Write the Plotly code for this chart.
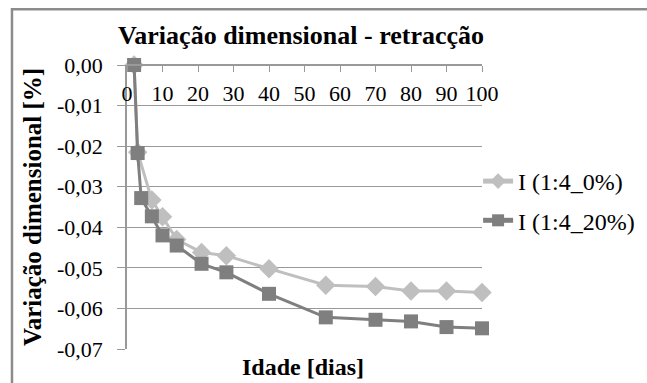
import plotly.graph_objects as go

# Data
days_0 = [2, 3, 7, 10, 14, 21, 28, 40, 56, 70, 80, 90, 100]
vals_0 = [0.0, -0.0215, -0.0333, -0.0374, -0.0430, -0.0462, -0.0470, -0.0502,
          -0.0543, -0.0546, -0.0557, -0.0557, -0.0561]
days_20 = [2, 3, 4, 7, 10, 14, 21, 28, 40, 56, 70, 80, 90, 100]
vals_20 = [0.0, -0.0217, -0.0328, -0.0373, -0.0420, -0.0445, -0.0490, -0.0511,
           -0.0564, -0.0622, -0.0628, -0.0632, -0.0646, -0.0649]
name_0 = "I (1:4_0%)"
name_20 = "I (1:4_20%)"
x_ticks = [0, 10, 20, 30, 40, 50, 60, 70, 80, 90, 100]
y_ticks = [0.0, -0.01, -0.02, -0.03, -0.04, -0.05, -0.06, -0.07]
y_ticktext = ["0,00", "-0,01", "-0,02", "-0,03", "-0,04", "-0,05", "-0,06", "-0,07"]

SERIF = "Liberation Serif, Times New Roman, serif"

fig = go.Figure()
fig.add_trace(go.Scatter(
    x=days_0, y=vals_0, name=name_0, mode="lines+markers", legendgroup="a",
    line=dict(color="#BFBFBF", width=3),
    marker=dict(symbol="diamond", size=15, color="#BFBFBF"),
    cliponaxis=False,
))
fig.add_trace(go.Scatter(
    x=days_20, y=vals_20, name=name_20, mode="lines+markers", legendgroup="b",
    line=dict(color="#7F7F7F", width=3),
    marker=dict(symbol="square", size=14, color="#7F7F7F"),
    cliponaxis=False,
))

fig.update_layout(
    width=647, height=383,
    margin=dict(l=127, r=165, t=65, b=34, autoexpand=False),
    paper_bgcolor="white", plot_bgcolor="white",
    font=dict(family=SERIF, size=22, color="black"),
    title=dict(text="<b>Variação dimensional - retracção</b>",
               x=301 / 647, xanchor="center", y=1 - 35 / 383, yanchor="middle",
               font=dict(family=SERIF, size=26, color="black")),
    showlegend=True,
    legend=dict(x=0.989, xanchor="left", y=0.669, yanchor="top",
                bgcolor="rgba(0,0,0,0)", font=dict(family=SERIF, size=24),
                tracegroupgap=5, itemsizing="constant"),
    xaxis=dict(
        range=[0, 100], anchor="free", position=1.0, side="bottom",
        tickvals=x_ticks,
        ticks="outside", ticklen=6, tickcolor="#999999",
        ticklabelstandoff=3,
        showline=True, linecolor="#999999", linewidth=1.5,
        showgrid=False, zeroline=False,
        tickfont=dict(family=SERIF, size=22),
    ),
    yaxis=dict(
        range=[-0.07, 0], tickvals=y_ticks, ticktext=y_ticktext,
        ticks="outside", ticklen=8, tickcolor="#999999",
        ticklabelstandoff=10,
        showline=True, linecolor="#999999", linewidth=1.5,
        showgrid=True, gridcolor="#999999", gridwidth=1,
        zeroline=False,
        tickfont=dict(family=SERIF, size=22),
        title=dict(text="<b>Variação dimensional [%]</b>", standoff=8,
                   font=dict(family=SERIF, size=25)),
    ),
    annotations=[dict(text="<b>Idade [dias]</b>", xref="paper", yref="paper",
                      x=0.497, y=-0.065, xanchor="center", yanchor="middle",
                      showarrow=False, font=dict(family=SERIF, size=24))],
    shapes=[dict(type="rect", xref="paper", yref="paper",
                 x0=-0.324, x1=1.6, y0=-0.3, y1=1.196,
                 line=dict(color="#8C8C8C", width=2.5), layer="below")],
)

fig.write_html("out.html")
